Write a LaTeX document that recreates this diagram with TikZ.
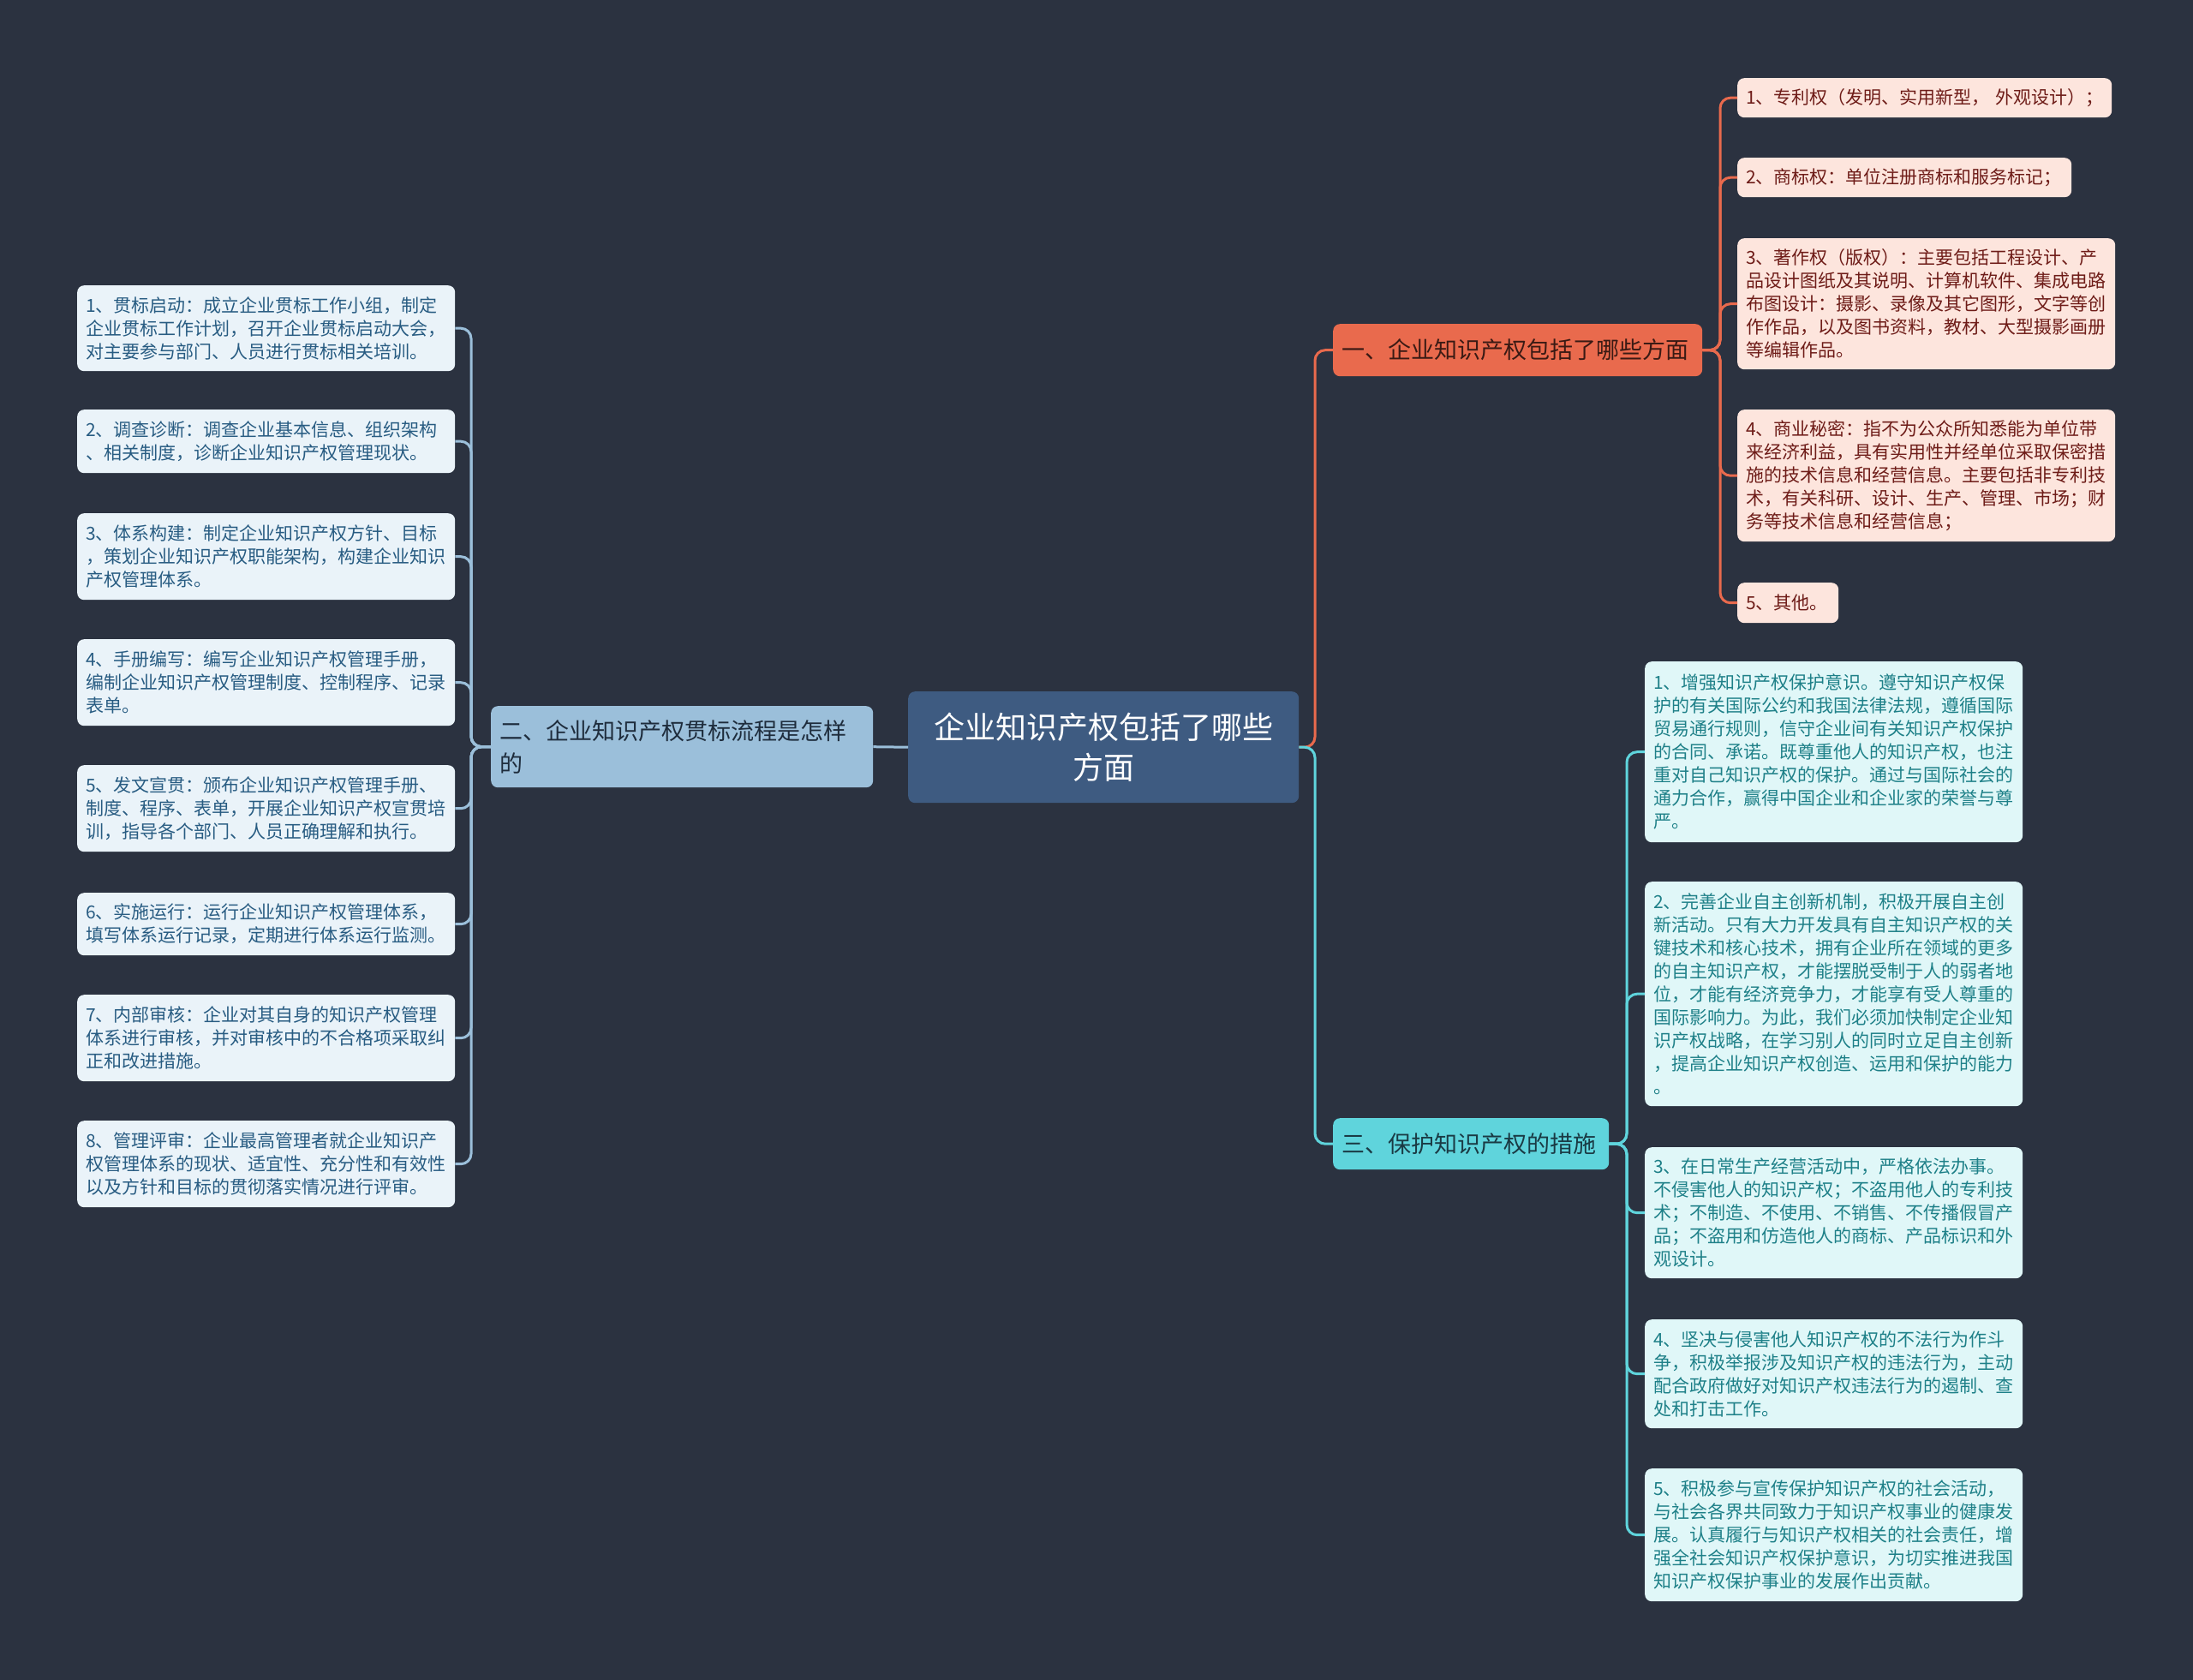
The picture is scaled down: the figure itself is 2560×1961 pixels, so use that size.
\documentclass[tikz,border=0pt]{standalone}
\usepackage{fontspec}
\setmainfont{Noto Sans CJK SC}
\definecolor{bg}{HTML}{2B3240}
\definecolor{ctr}{HTML}{3E5B81}
\definecolor{org}{HTML}{E96A4D}
\definecolor{orgleaf}{HTML}{FDE5DD}
\definecolor{orgtxt}{HTML}{6E1C18}
\definecolor{orgbtxt}{HTML}{3A1A14}
\definecolor{blu}{HTML}{9BBFDA}
\definecolor{bluleaf}{HTML}{EAF3F9}
\definecolor{blutxt}{HTML}{285C82}
\definecolor{blubtxt}{HTML}{1E2C3C}
\definecolor{cya}{HTML}{5FD4DC}
\definecolor{cyaleaf}{HTML}{E0F7F8}
\definecolor{cyatxt}{HTML}{1E8088}
\definecolor{cyabtxt}{HTML}{1A3A44}
\tikzset{
  box/.style={anchor=north west, rounded corners=8pt, inner xsep=10pt, inner ysep=0pt, align=left},
  leaftext/.style={font=\fontsize{21pt}{27pt}\selectfont},
  orgleafbox/.style={box, leaftext, fill=orgleaf, text=orgtxt},
  bluleafbox/.style={box, leaftext, fill=bluleaf, text=blutxt},
  cyaleafbox/.style={box, leaftext, fill=cyaleaf, text=cyatxt},
  branchtext/.style={font=\fontsize{27pt}{37.5pt}\selectfont},
  conn/.style={line width=3pt, rounded corners=12pt},
  oconn/.style={conn, draw=org},
  bconn/.style={conn, draw=blu},
  cconn/.style={conn, draw=cya},
}
\begin{document}
\begin{tikzpicture}[x=1pt,y=-1pt]
\useasboundingbox (0,0) rectangle (2560,1961);
\fill[bg] (0,0) rectangle (2560,1961);

% trunks
\coordinate (tl) at (550,871);
\coordinate (tr) at (1535,871);
\coordinate (to) at (2008,408);
\coordinate (tc) at (1899,1335);

% center
\node[box, fill=ctr, text=white, align=center, text width=436pt, minimum height=130pt,
  font=\fontsize{36pt}{47pt}\selectfont] (c) at (1060,807) {企业知识产权包括了哪些\\方面};

% branches
\node[box, fill=org, text=orgbtxt, branchtext, text width=411pt, minimum height=61pt] (ob) at (1556,378) {一、企业知识产权包括了哪些方面};
\node[box, fill=blu, text=blubtxt, branchtext, text width=426pt, minimum height=95pt] (lb) at (573,824) {二、企业知识产权贯标流程是怎样\\的};
\node[box, fill=cya, text=cyabtxt, branchtext, text width=302pt, minimum height=60pt] (cb) at (1556,1305) {三、保护知识产权的措施};

% orange leaves
\node[orgleafbox, text width=417pt, minimum height=46pt] (o1) at (2028,91) {\mbox{1、专利权（发明、实用新型，~外观设计）；}};
\node[orgleafbox, text width=370pt, minimum height=46pt] (o2) at (2028,184) {2、商标权：单位注册商标和服务标记；};
\node[orgleafbox, text width=421pt, minimum height=153pt] (o3) at (2028,278) {3、著作权（版权）：主要包括工程设计、产\\品设计图纸及其说明、计算机软件、集成电路\\布图设计：摄影、录像及其它图形，文字等创\\作作品，以及图书资料，教材、大型摄影画册\\等编辑作品。};
\node[orgleafbox, text width=421pt, minimum height=154pt] (o4) at (2028,478) {4、商业秘密：指不为公众所知悉能为单位带\\来经济利益，具有实用性并经单位采取保密措\\施的技术信息和经营信息。主要包括非专利技\\术，有关科研、设计、生产、管理、市场；财\\务等技术信息和经营信息；};
\node[orgleafbox, text width=98pt, minimum height=47pt] (o5) at (2028,680) {5、其他。};

% blue leaves
\node[bluleafbox, text width=421pt, minimum height=100pt] (l1) at (90,333) {1、贯标启动：成立企业贯标工作小组，制定\\企业贯标工作计划，召开企业贯标启动大会，\\对主要参与部门、人员进行贯标相关培训。};
\node[bluleafbox, text width=421pt, minimum height=74pt] (l2) at (90,478) {2、调查诊断：调查企业基本信息、组织架构\\、相关制度，诊断企业知识产权管理现状。};
\node[bluleafbox, text width=421pt, minimum height=101pt] (l3) at (90,599) {3、体系构建：制定企业知识产权方针、目标\\，策划企业知识产权职能架构，构建企业知识\\产权管理体系。};
\node[bluleafbox, text width=421pt, minimum height=101pt] (l4) at (90,746) {4、手册编写：编写企业知识产权管理手册，\\编制企业知识产权管理制度、控制程序、记录\\表单。};
\node[bluleafbox, text width=421pt, minimum height=101pt] (l5) at (90,893) {5、发文宣贯：颁布企业知识产权管理手册、\\制度、程序、表单，开展企业知识产权宣贯培\\训，指导各个部门、人员正确理解和执行。};
\node[bluleafbox, text width=421pt, minimum height=73pt] (l6) at (90,1042) {6、实施运行：运行企业知识产权管理体系，\\填写体系运行记录，定期进行体系运行监测。};
\node[bluleafbox, text width=421pt, minimum height=101pt] (l7) at (90,1161) {7、内部审核：企业对其自身的知识产权管理\\体系进行审核，并对审核中的不合格项采取纠\\正和改进措施。};
\node[bluleafbox, text width=421pt, minimum height=101pt] (l8) at (90,1308) {8、管理评审：企业最高管理者就企业知识产\\权管理体系的现状、适宜性、充分性和有效性\\以及方针和目标的贯彻落实情况进行评审。};

% cyan leaves
\node[cyaleafbox, text width=421pt, minimum height=211pt] (r1) at (1920,772) {1、增强知识产权保护意识。遵守知识产权保\\护的有关国际公约和我国法律法规，遵循国际\\贸易通行规则，信守企业间有关知识产权保护\\的合同、承诺。既尊重他人的知识产权，也注\\重对自己知识产权的保护。通过与国际社会的\\通力合作，赢得中国企业和企业家的荣誉与尊\\严。};
\node[cyaleafbox, text width=421pt, minimum height=262pt] (r2) at (1920,1029) {2、完善企业自主创新机制，积极开展自主创\\新活动。只有大力开发具有自主知识产权的关\\键技术和核心技术，拥有企业所在领域的更多\\的自主知识产权，才能摆脱受制于人的弱者地\\位，才能有经济竞争力，才能享有受人尊重的\\国际影响力。为此，我们必须加快制定企业知\\识产权战略，在学习别人的同时立足自主创新\\，提高企业知识产权创造、运用和保护的能力\\。};
\node[cyaleafbox, text width=421pt, minimum height=153pt] (r3) at (1920,1339) {3、在日常生产经营活动中，严格依法办事。\\不侵害他人的知识产权；不盗用他人的专利技\\术；不制造、不使用、不销售、不传播假冒产\\品；不盗用和仿造他人的商标、产品标识和外\\观设计。};
\node[cyaleafbox, text width=421pt, minimum height=127pt] (r4) at (1920,1540) {4、坚决与侵害他人知识产权的不法行为作斗\\争，积极举报涉及知识产权的违法行为，主动\\配合政府做好对知识产权违法行为的遏制、查\\处和打击工作。};
\node[cyaleafbox, text width=421pt, minimum height=155pt] (r5) at (1920,1714) {5、积极参与宣传保护知识产权的社会活动，\\与社会各界共同致力于知识产权事业的健康发\\展。认真履行与知识产权相关的社会责任，增\\强全社会知识产权保护意识，为切实推进我国\\知识产权保护事业的发展作出贡献。};

% connectors
\draw[bconn] (c.west) -- (lb.east);
\draw[oconn] (c.east) -- (tr |- c.east) -- (tr |- ob.west) -- (ob.west);
\draw[cconn] (c.east) -- (tr |- c.east) -- (tr |- cb.west) -- (cb.west);
\foreach \n in {l1,l2,l3,l4,l5,l6,l7,l8}{
  \draw[bconn] (lb.west) -- (tl |- lb.west) -- (tl |- \n.east) -- (\n.east);
}
\foreach \n in {o1,o2,o3,o4,o5}{
  \draw[oconn] (ob.east) -- (to |- ob.east) -- (to |- \n.west) -- (\n.west);
}
\foreach \n in {r1,r2,r3,r4,r5}{
  \draw[cconn] (cb.east) -- (tc |- cb.east) -- (tc |- \n.west) -- (\n.west);
}
\end{tikzpicture}
\end{document}
